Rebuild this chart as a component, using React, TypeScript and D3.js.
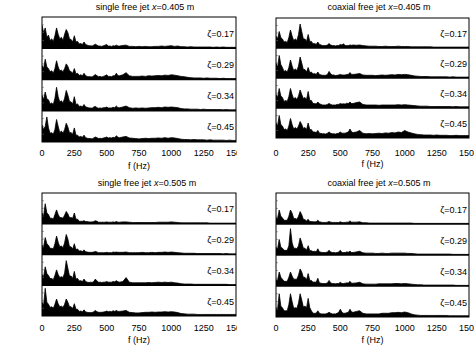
import React from "react";
import * as d3 from "d3";

// frequency grid: 12.5 Hz steps to 600 Hz, then 25 Hz steps to 1500 Hz
const freqsLow = [0,12.5,25,37.5,50,62.5,75,87.5,100,112.5,125,137.5,150,162.5,175,187.5,200,212.5,225,237.5,250,262.5,275,287.5,300,312.5,325,337.5,350,362.5,375,387.5,400,412.5,425,437.5,450,462.5,475,487.5,500,512.5,525,537.5,550,562.5,575,587.5,600];
const freqsHigh = [625,650,675,700,725,750,775,800,825,850,875,900,925,950,975,1000,1025,1050,1075,1100,1125,1150,1175,1200,1225,1250,1275,1300,1325,1350,1375,1400,1425,1450,1475,1500];
const freqs = [...freqsLow, ...freqsHigh];

const zetaLabels = ["ζ=0.17", "ζ=0.29", "ζ=0.34", "ζ=0.45"];
const xTicks = [0, 250, 500, 750, 1000, 1250, 1500];
const panelTitles = ["single free jet ", "coaxial free jet ", "single free jet ", "coaxial free jet "];
const panelPositions = ["0.405", "0.405", "0.505", "0.505"];

// ---- single free jet x=0.405 m (amplitude as fraction of strip height)
const tl17Low = [0.74,0.5,0.65,0.35,0.42,0.25,0.3,0.22,0.4,0.65,0.45,0.3,0.35,0.25,0.45,0.6,0.5,0.3,0.28,0.2,0.4,0.2,0.22,0.14,0.15,0.12,0.2,0.12,0.1,0.08,0.08,0.07,0.1,0.13,0.1,0.07,0.07,0.06,0.08,0.1,0.12,0.07,0.07,0.06,0.08,0.07,0.1,0.07,0.07];
const tl17High = [0.09,0.1,0.06,0.06,0.05,0.06,0.05,0.06,0.05,0.05,0.06,0.06,0.07,0.06,0.07,0.08,0.06,0.07,0.05,0.05,0.04,0.05,0.04,0.04,0.04,0.04,0.04,0.04,0.03,0.04,0.03,0.04,0.03,0.03,0.03,0.03];
const tl29Low = [0.45,0.35,0.65,0.4,0.35,0.25,0.28,0.2,0.35,0.6,0.4,0.28,0.3,0.25,0.35,0.5,0.42,0.28,0.25,0.2,0.35,0.18,0.2,0.13,0.15,0.12,0.2,0.12,0.1,0.09,0.09,0.08,0.12,0.16,0.12,0.09,0.1,0.08,0.1,0.12,0.15,0.1,0.1,0.09,0.12,0.12,0.2,0.12,0.12];
const tl29High = [0.15,0.22,0.12,0.1,0.1,0.1,0.11,0.1,0.12,0.11,0.12,0.13,0.12,0.14,0.13,0.15,0.14,0.12,0.1,0.09,0.07,0.06,0.05,0.05,0.05,0.04,0.05,0.04,0.04,0.04,0.03,0.04,0.03,0.03,0.03,0.03];
const tl34Low = [0.5,0.35,0.6,0.38,0.35,0.22,0.25,0.2,0.4,0.75,0.45,0.28,0.32,0.25,0.4,0.65,0.5,0.3,0.28,0.22,0.45,0.2,0.22,0.14,0.15,0.13,0.2,0.12,0.11,0.09,0.09,0.08,0.12,0.14,0.1,0.08,0.09,0.08,0.1,0.1,0.12,0.09,0.09,0.09,0.11,0.1,0.15,0.1,0.1];
const tl34High = [0.12,0.15,0.1,0.08,0.09,0.08,0.09,0.08,0.09,0.1,0.1,0.11,0.1,0.12,0.11,0.12,0.11,0.1,0.07,0.06,0.06,0.05,0.05,0.05,0.04,0.05,0.04,0.04,0.04,0.04,0.04,0.03,0.04,0.03,0.03,0.03];
const tl45Low = [0.55,0.4,0.5,0.8,0.45,0.28,0.3,0.25,0.4,0.72,0.5,0.3,0.35,0.28,0.4,0.6,0.48,0.3,0.3,0.25,0.45,0.22,0.22,0.16,0.18,0.15,0.22,0.14,0.12,0.11,0.11,0.1,0.13,0.16,0.14,0.11,0.12,0.11,0.13,0.14,0.16,0.13,0.14,0.13,0.15,0.14,0.2,0.15,0.14];
const tl45High = [0.16,0.18,0.13,0.12,0.11,0.1,0.11,0.12,0.11,0.12,0.12,0.13,0.12,0.14,0.12,0.14,0.13,0.11,0.09,0.08,0.08,0.07,0.08,0.07,0.07,0.07,0.06,0.07,0.06,0.06,0.06,0.06,0.05,0.06,0.05,0.05];

// ---- coaxial free jet x=0.405 m
const tr17Low = [0.4,0.3,0.55,0.35,0.3,0.2,0.22,0.18,0.35,0.6,0.4,0.25,0.3,0.25,0.45,0.8,0.55,0.3,0.3,0.22,0.45,0.22,0.22,0.14,0.15,0.12,0.2,0.12,0.1,0.08,0.08,0.08,0.1,0.15,0.1,0.08,0.08,0.07,0.08,0.08,0.12,0.1,0.14,0.08,0.08,0.08,0.1,0.09,0.1];
const tr17High = [0.09,0.1,0.08,0.07,0.06,0.06,0.06,0.05,0.05,0.06,0.05,0.05,0.05,0.06,0.05,0.05,0.05,0.04,0.04,0.04,0.04,0.04,0.04,0.04,0.03,0.03,0.03,0.03,0.03,0.03,0.03,0.03,0.03,0.03,0.03,0.03];
const tr29Low = [0.5,0.35,0.75,0.45,0.35,0.22,0.25,0.2,0.35,0.6,0.4,0.25,0.3,0.25,0.4,0.7,0.5,0.28,0.28,0.2,0.35,0.18,0.2,0.13,0.15,0.12,0.2,0.12,0.1,0.09,0.09,0.09,0.12,0.22,0.14,0.1,0.1,0.08,0.09,0.1,0.12,0.1,0.1,0.1,0.12,0.12,0.18,0.12,0.12];
const tr29High = [0.13,0.15,0.1,0.09,0.09,0.09,0.08,0.09,0.1,0.09,0.1,0.11,0.1,0.12,0.11,0.12,0.11,0.09,0.07,0.06,0.05,0.05,0.05,0.04,0.04,0.04,0.04,0.04,0.04,0.03,0.04,0.03,0.03,0.03,0.03,0.03];
const tr34Low = [0.45,0.35,0.65,0.4,0.35,0.22,0.25,0.22,0.38,0.65,0.45,0.3,0.35,0.28,0.4,0.6,0.45,0.32,0.35,0.28,0.55,0.25,0.25,0.15,0.15,0.13,0.2,0.14,0.12,0.1,0.1,0.1,0.12,0.15,0.12,0.1,0.1,0.1,0.12,0.12,0.15,0.13,0.14,0.13,0.16,0.15,0.2,0.15,0.15];
const tr34High = [0.18,0.2,0.12,0.1,0.1,0.1,0.1,0.09,0.1,0.1,0.1,0.1,0.1,0.11,0.1,0.11,0.1,0.09,0.08,0.07,0.06,0.06,0.06,0.05,0.05,0.05,0.05,0.05,0.05,0.05,0.04,0.05,0.04,0.04,0.04,0.04];
const tr45Low = [0.5,0.4,0.75,0.45,0.4,0.28,0.3,0.25,0.4,0.65,0.45,0.3,0.35,0.3,0.4,0.55,0.45,0.32,0.35,0.28,0.5,0.28,0.28,0.2,0.2,0.18,0.25,0.16,0.15,0.14,0.14,0.13,0.16,0.2,0.16,0.14,0.14,0.13,0.15,0.16,0.2,0.16,0.16,0.16,0.18,0.2,0.3,0.2,0.18];
const tr45High = [0.2,0.25,0.16,0.14,0.15,0.14,0.15,0.16,0.15,0.17,0.16,0.18,0.17,0.2,0.18,0.25,0.2,0.17,0.14,0.12,0.11,0.1,0.1,0.1,0.09,0.1,0.09,0.09,0.09,0.08,0.08,0.09,0.08,0.08,0.08,0.08];

// ---- single free jet x=0.505 m
const bl17Low = [0.35,0.25,0.65,0.35,0.3,0.18,0.18,0.15,0.3,0.45,0.3,0.2,0.2,0.18,0.28,0.4,0.32,0.2,0.2,0.18,0.35,0.15,0.15,0.08,0.08,0.08,0.1,0.07,0.07,0.06,0.06,0.06,0.07,0.1,0.08,0.05,0.05,0.05,0.05,0.05,0.06,0.05,0.05,0.05,0.06,0.05,0.07,0.05,0.05];
const bl17High = [0.06,0.06,0.05,0.04,0.04,0.04,0.04,0.04,0.04,0.04,0.04,0.05,0.05,0.05,0.05,0.06,0.05,0.04,0.03,0.03,0.03,0.03,0.03,0.03,0.03,0.03,0.03,0.02,0.02,0.02,0.02,0.02,0.02,0.02,0.02,0.02];
const bl29Low = [0.3,0.25,0.55,0.35,0.3,0.2,0.2,0.18,0.35,0.6,0.4,0.25,0.28,0.22,0.38,0.65,0.5,0.25,0.25,0.18,0.35,0.16,0.18,0.11,0.12,0.1,0.15,0.09,0.08,0.07,0.07,0.07,0.08,0.1,0.08,0.06,0.06,0.06,0.06,0.06,0.07,0.06,0.06,0.06,0.08,0.07,0.08,0.07,0.07];
const bl29High = [0.07,0.08,0.06,0.06,0.06,0.06,0.07,0.06,0.06,0.07,0.06,0.07,0.07,0.08,0.07,0.08,0.07,0.06,0.05,0.04,0.04,0.04,0.04,0.03,0.03,0.03,0.03,0.03,0.03,0.03,0.03,0.02,0.03,0.02,0.02,0.02];
const bl34Low = [0.35,0.28,0.6,0.38,0.32,0.22,0.22,0.18,0.32,0.5,0.35,0.25,0.28,0.25,0.4,0.8,0.55,0.3,0.3,0.22,0.45,0.2,0.22,0.14,0.15,0.12,0.2,0.12,0.1,0.09,0.1,0.09,0.12,0.2,0.14,0.1,0.1,0.09,0.1,0.1,0.12,0.1,0.1,0.1,0.12,0.11,0.15,0.11,0.1];
const bl34High = [0.12,0.25,0.1,0.08,0.08,0.08,0.08,0.08,0.09,0.08,0.09,0.1,0.09,0.1,0.09,0.1,0.08,0.07,0.05,0.04,0.04,0.04,0.03,0.03,0.03,0.03,0.03,0.03,0.03,0.03,0.03,0.03,0.03,0.02,0.02,0.02];
const bl45Low = [0.45,0.35,0.9,0.45,0.38,0.28,0.3,0.25,0.38,0.55,0.4,0.3,0.32,0.28,0.38,0.55,0.45,0.3,0.3,0.24,0.4,0.22,0.22,0.15,0.16,0.14,0.2,0.13,0.12,0.11,0.11,0.11,0.14,0.18,0.14,0.12,0.12,0.12,0.13,0.14,0.16,0.14,0.15,0.14,0.17,0.15,0.18,0.15,0.15];
const bl45High = [0.16,0.18,0.12,0.11,0.1,0.1,0.11,0.12,0.12,0.13,0.12,0.13,0.13,0.14,0.13,0.14,0.13,0.11,0.08,0.07,0.06,0.06,0.06,0.05,0.05,0.05,0.05,0.05,0.05,0.05,0.05,0.05,0.05,0.05,0.05,0.05];

// ---- coaxial free jet x=0.505 m
const br17Low = [0.2,0.18,0.45,0.25,0.2,0.12,0.12,0.12,0.25,0.45,0.35,0.18,0.18,0.15,0.25,0.4,0.3,0.15,0.14,0.1,0.15,0.08,0.08,0.07,0.07,0.07,0.12,0.07,0.06,0.05,0.05,0.05,0.06,0.08,0.06,0.05,0.05,0.05,0.05,0.05,0.07,0.05,0.05,0.05,0.06,0.06,0.1,0.06,0.06];
const br17High = [0.06,0.07,0.04,0.04,0.03,0.03,0.03,0.03,0.03,0.03,0.03,0.03,0.03,0.03,0.03,0.03,0.03,0.03,0.02,0.02,0.02,0.02,0.02,0.02,0.02,0.02,0.02,0.02,0.02,0.02,0.02,0.02,0.02,0.02,0.02,0.02];
const br29Low = [0.25,0.2,0.5,0.25,0.22,0.15,0.15,0.15,0.3,0.85,0.4,0.22,0.22,0.2,0.3,0.55,0.4,0.22,0.22,0.15,0.3,0.14,0.14,0.11,0.12,0.1,0.2,0.1,0.09,0.08,0.08,0.08,0.1,0.15,0.1,0.08,0.08,0.07,0.08,0.1,0.15,0.08,0.08,0.08,0.1,0.09,0.12,0.08,0.08];
const br29High = [0.1,0.12,0.07,0.06,0.06,0.06,0.05,0.05,0.06,0.05,0.05,0.06,0.06,0.06,0.06,0.06,0.05,0.05,0.04,0.03,0.03,0.03,0.03,0.03,0.03,0.03,0.03,0.03,0.03,0.03,0.02,0.02,0.02,0.02,0.02,0.02];
const br34Low = [0.2,0.18,0.45,0.28,0.22,0.15,0.15,0.15,0.28,0.45,0.32,0.22,0.22,0.22,0.35,0.55,0.45,0.28,0.28,0.2,0.4,0.18,0.18,0.12,0.13,0.12,0.25,0.1,0.09,0.08,0.08,0.08,0.1,0.18,0.1,0.08,0.08,0.07,0.08,0.08,0.12,0.08,0.08,0.09,0.1,0.1,0.15,0.09,0.09];
const br34High = [0.1,0.12,0.07,0.06,0.06,0.06,0.06,0.07,0.07,0.07,0.07,0.07,0.08,0.08,0.07,0.08,0.07,0.06,0.05,0.04,0.04,0.03,0.03,0.03,0.03,0.03,0.03,0.03,0.03,0.03,0.03,0.02,0.02,0.02,0.02,0.02];
const br45Low = [0.3,0.25,0.75,0.35,0.3,0.2,0.2,0.2,0.4,0.75,0.5,0.28,0.3,0.28,0.45,0.75,0.55,0.32,0.35,0.3,0.6,0.3,0.2,0.12,0.12,0.12,0.2,0.12,0.1,0.1,0.1,0.1,0.12,0.15,0.12,0.1,0.1,0.1,0.12,0.15,0.25,0.15,0.12,0.12,0.14,0.15,0.25,0.16,0.15];
const br45High = [0.18,0.2,0.12,0.1,0.1,0.1,0.1,0.1,0.12,0.12,0.12,0.14,0.14,0.15,0.14,0.16,0.14,0.1,0.07,0.06,0.05,0.05,0.05,0.05,0.05,0.05,0.05,0.05,0.05,0.04,0.04,0.04,0.04,0.04,0.04,0.04];

const panelSeries = [
  [[...tl17Low, ...tl17High], [...tl29Low, ...tl29High], [...tl34Low, ...tl34High], [...tl45Low, ...tl45High]],
  [[...tr17Low, ...tr17High], [...tr29Low, ...tr29High], [...tr34Low, ...tr34High], [...tr45Low, ...tr45High]],
  [[...bl17Low, ...bl17High], [...bl29Low, ...bl29High], [...bl34Low, ...bl34High], [...bl45Low, ...bl45High]],
  [[...br17Low, ...br17High], [...br29Low, ...br29High], [...br34Low, ...br34High], [...br45Low, ...br45High]],
];

const FONT = "'Liberation Sans', Arial, Helvetica, sans-serif";

const layout = [
  { left: 42, right: 236, top: 17, bottom: 142, titleX: 145, titleY: 10, tickY: 155.5, labelY: 168.5, clipX: 0, clipW: 237 },
  { left: 276, right: 469, top: 18, bottom: 138, titleX: 379, titleY: 10, tickY: 155.5, labelY: 166.5, clipX: 237, clipW: 237 },
  { left: 42, right: 236, top: 193, bottom: 316, titleX: 147, titleY: 186, tickY: 330.5, labelY: 343, clipX: 0, clipW: 237 },
  { left: 276, right: 469, top: 193, bottom: 317, titleX: 379, titleY: 186, tickY: 330.5, labelY: 343, clipX: 237, clipW: 237 },
];

function Panel({ idx }: { idx: number }) {
  const L = layout[idx];
  const series = panelSeries[idx];
  const x = d3.scaleLinear().domain([0, 1500]).range([L.left, L.right]);
  const band = d3.scaleBand<number>().domain([0, 1, 2, 3]).range([L.top, L.bottom]).padding(0);
  const h = band.bandwidth();
  return (
    <g>
      <defs>
        <clipPath id={`half${idx}`}>
          <rect x={L.clipX} y={0} width={L.clipW} height={361} />
        </clipPath>
        <clipPath id={`box${idx}`}>
          <rect x={L.left} y={L.top} width={L.right - L.left} height={L.bottom - L.top} />
        </clipPath>
      </defs>
      <g clipPath={`url(#half${idx})`}>
        <text x={L.titleX} y={L.titleY} textAnchor="middle" fontSize={9} fontFamily={FONT} fill="#000">
          {panelTitles[idx]}
          <tspan fontStyle="italic">x</tspan>
          {`=${panelPositions[idx]} m`}
        </text>
        <g clipPath={`url(#box${idx})`}>
          {series.map((vals, k) => {
            const n = Math.min(vals.length, freqs.length);
            const data = vals.slice(0, n);
            const base = (band(k) as number) + h;
            const y = d3.scaleLinear().domain([0, 1]).range([base, base - h]);
            const area = d3
              .area<number>()
              .x((_, i) => x(freqs[i]))
              .y0(base)
              .y1((d) => y(d))
              .curve(d3.curveLinear);
            const line = d3
              .line<number>()
              .x((_, i) => x(freqs[i]))
              .y((d) => y(d));
            return (
              <g key={k}>
                <path d={area(data) as string} fill="#000" />
                <path d={line(data) as string} fill="none" stroke="#000" strokeWidth={0.8} />
              </g>
            );
          })}
        </g>
        {[0, 1, 2, 3].map((k) => {
          const top = band(k) as number;
          return (
            <g key={k}>
              {[0.25, 0.5, 0.75].map((t) => (
                <line key={t} x1={L.left} x2={L.left + 2} y1={top + h * t} y2={top + h * t} stroke="#777" strokeWidth={0.6} />
              ))}
              {k > 0 && <line x1={L.left} x2={L.right} y1={top} y2={top} stroke="#000" strokeWidth={1.4} />}
              <text x={L.right - 2} y={top + h / 2 + 4} textAnchor="end" fontSize={9} fontFamily={FONT} fill="#000">
                {zetaLabels[k]}
              </text>
            </g>
          );
        })}
        <rect x={L.left} y={L.top} width={L.right - L.left} height={L.bottom - L.top} fill="none" stroke="#000" strokeWidth={1} />
        {xTicks.map((t) => (
          <text key={t} x={x(t)} y={L.tickY} textAnchor="middle" fontSize={9} fontFamily={FONT} fill="#000">
            {t}
          </text>
        ))}
        <text x={(L.left + L.right) / 2} y={L.labelY} textAnchor="middle" fontSize={9} fontFamily={FONT} fill="#000">
          f (Hz)
        </text>
      </g>
    </g>
  );
}

export default function App() {
  return (
    <svg width={474} height={361} style={{ position: "absolute", left: 0, top: 0, background: "#fff" }}>
      <rect x={0} y={0} width={474} height={361} fill="#fff" />
      {[0, 1, 2, 3].map((i) => (
        <Panel key={i} idx={i} />
      ))}
    </svg>
  );
}
